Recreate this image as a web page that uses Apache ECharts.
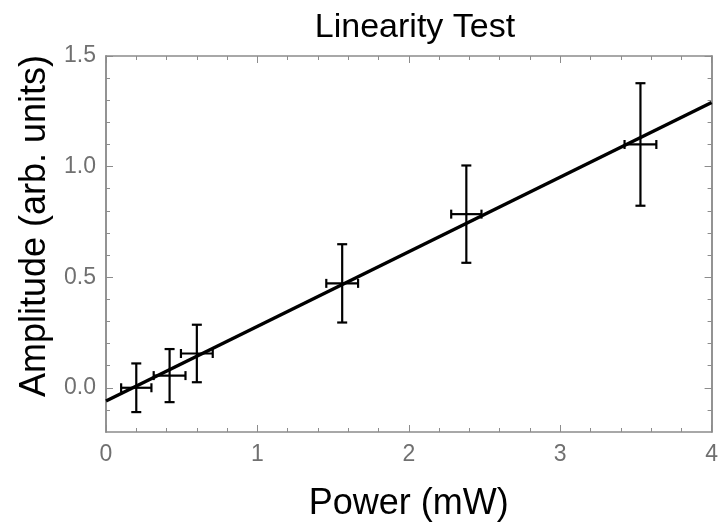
<!DOCTYPE html>
<html>
<head>
<meta charset="utf-8">
<script src="https://cdn.jsdelivr.net/npm/echarts@6/dist/echarts.min.js"></script>
<style>html,body{margin:0;padding:0;background:#fff}#c{width:721px;height:531px}</style>
</head>
<body>
<div id="c"></div>
<script>
// data
const powerX   = [0.20, 0.42, 0.60, 1.56, 2.38, 3.53];
const ampY     = [0.00, 0.055, 0.155, 0.472, 0.785, 1.10];
const powerErr = [0.10, 0.105, 0.105, 0.105, 0.10, 0.105];
const ampErr   = [0.11, 0.12, 0.13, 0.177, 0.22, 0.277];
const fitX     = [0, 4];
const fitY     = [-0.06, 1.29];
const xTicks   = [0, 1, 2, 3, 4];
const yTicks   = [0.0, 0.5, 1.0, 1.5];
const yMinor   = [-0.1, 0.1, 0.2, 0.3, 0.4, 0.6, 0.7, 0.8, 0.9, 1.1, 1.2, 1.3, 1.4];

const FONT = 'Liberation Sans, Arial, sans-serif';
const AX = '#8c8c8c';

const chart = echarts.init(document.getElementById('c'), null, {renderer: 'canvas'});

function xAx(pos, show) {
  return {
    type: 'value', position: pos, min: 0, max: 4, interval: 1,
    axisLine: {show: true, onZero: false, lineStyle: {color: AX, width: 1.5}},
    axisTick: {show: true, inside: true, length: 7, lineStyle: {color: AX, width: 1}},
    minorTick: {show: true, splitNumber: 5, length: 4, lineStyle: {color: AX, width: 1}},
    axisLabel: {show: show, color: '#707070', fontSize: 23, fontFamily: FONT, margin: 11,
                formatter: v => String(v)},
    splitLine: {show: false},
    name: show ? 'Power (mW)' : '', nameLocation: 'middle', nameGap: 54,
    nameTextStyle: {color: '#000', fontSize: 36, fontFamily: FONT}
  };
}
function yAx(pos, show, ticks, len, name) {
  return {
    type: 'value', position: pos, min: -0.2, max: 1.5,
    axisLine: {show: true, onZero: false, lineStyle: {color: AX, width: 1.5}},
    axisTick: {show: true, inside: true, length: len, customValues: ticks, lineStyle: {color: AX, width: 1}},
    axisLabel: {show: show, customValues: yTicks, color: '#707070', fontSize: 23, fontFamily: FONT, margin: 10,
                formatter: v => v.toFixed(1)},
    splitLine: {show: false},
    name: name || '', nameLocation: 'middle', nameGap: 53,
    nameTextStyle: {color: '#000', fontSize: 36, fontFamily: FONT, padding: [0, 0, 0, 36]}
  };
}

const pts = powerX.map((x, i) => [x, ampY[i], powerErr[i], ampErr[i]]);

chart.setOption({
  animation: false,
  backgroundColor: '#fff',
  title: {
    text: 'Linearity Test', left: 410, top: 6, textAlign: 'center',
    textStyle: {color: '#000', fontSize: 34, fontWeight: 'normal', fontFamily: FONT}
  },
  grid: {left: 106, right: 7, top: 56, bottom: 99, containLabel: false},
  xAxis: [xAx('bottom', true), xAx('top', false)],
  yAxis: [
    yAx('left', true, yTicks, 7, 'Amplitude (arb. units)'),
    yAx('right', false, yTicks, 7),
    yAx('left', false, yMinor, 4),
    yAx('right', false, yMinor, 4)
  ],
  series: [
    {
      type: 'line', xAxisIndex: 0, yAxisIndex: 0,
      data: fitX.map((x, i) => [x, fitY[i]]),
      showSymbol: false, symbol: 'none',
      lineStyle: {color: '#000', width: 3.5}, z: 3
    },
    {
      type: 'custom', xAxisIndex: 0, yAxisIndex: 0, z: 4,
      data: pts,
      renderItem: function (params, api) {
        const x = api.value(0), y = api.value(1), dx = api.value(2), dy = api.value(3);
        const top = api.coord([x, y + dy]);
        const bot = api.coord([x, y - dy]);
        const lft = api.coord([x - dx, y]);
        const rgt = api.coord([x + dx, y]);
        const c = 5, hc = 4.5;
        const st = {stroke: '#000', lineWidth: 2.2};
        const L = (x1, y1, x2, y2) => ({type: 'line', shape: {x1, y1, x2, y2}, style: st});
        return {
          type: 'group',
          children: [
            L(top[0], top[1], bot[0], bot[1]),
            L(top[0] - c, top[1], top[0] + c, top[1]),
            L(bot[0] - c, bot[1], bot[0] + c, bot[1]),
            L(lft[0], lft[1], rgt[0], rgt[1]),
            L(lft[0], lft[1] - hc, lft[0], lft[1] + hc),
            L(rgt[0], rgt[1] - hc, rgt[0], rgt[1] + hc)
          ]
        };
      }
    }
  ]
});
</script>
</body>
</html>
